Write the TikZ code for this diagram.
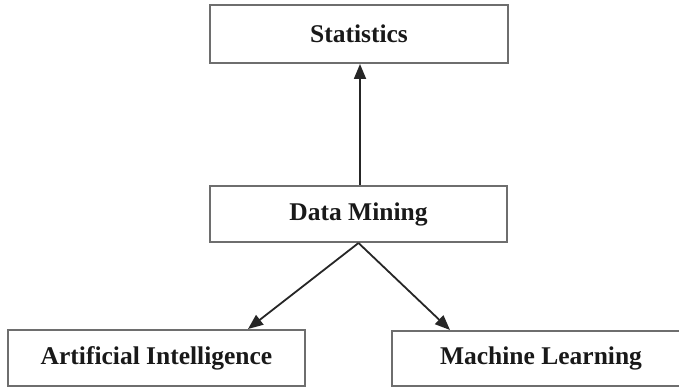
\documentclass[tikz,border=0pt]{standalone}
\usepackage{fontspec}
\setmainfont{Liberation Serif}
\usetikzlibrary{arrows.meta}
\definecolor{boxgray}{HTML}{6E6E6E}
\begin{document}
\begin{tikzpicture}[x=1pt,y=1pt,
  box/.style={draw=boxgray,line width=2pt,fill=white,rectangle,minimum width=297pt,minimum height=56pt,inner sep=0pt,
    font=\fontsize{25.5}{30}\selectfont\bfseries,text=black!90},
  link/.style={draw=black!85,line width=1.8pt,-{Triangle[length=15pt,width=12pt]}}]
\useasboundingbox (0,0) rectangle (679,-387);
\clip (0,0) rectangle (679,-387);
\fill[white] (0,0) rectangle (679,-387);
\node[box,minimum width=298pt,minimum height=58pt] (stat) at (359,-34) {Statistics};
\node[box] (dm) at (358.5,-214) {Data Mining};
\node[box] (ai) at (156.5,-358) {Artificial Intelligence};
\node[box,minimum width=298pt,minimum height=55pt] (ml) at (541,-358.5) {Machine Learning};
\draw[link] ([xshift=1.5pt]dm.north) -- ([xshift=1pt]stat.south);
\draw[link] (dm.south) -- ([xshift=91.5pt]ai.north);
\draw[link] (dm.south) -- ([xshift=-91pt]ml.north);
\end{tikzpicture}
\end{document}
